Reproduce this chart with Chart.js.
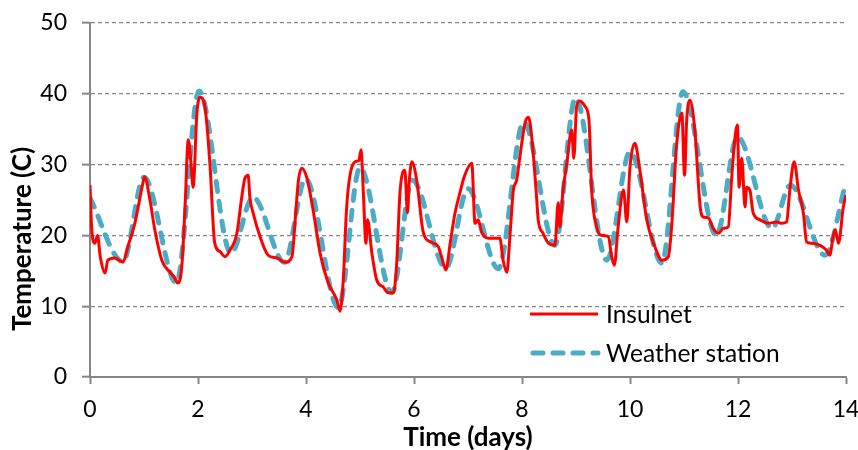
<!DOCTYPE html>
<html>
<head>
<meta charset="utf-8">
<script src="https://cdn.jsdelivr.net/npm/chart.js@4.4.0/dist/chart.umd.min.js"></script>
<style>
  html, body { margin: 0; padding: 0; background: #fff; }
  #wrap { width: 858px; height: 450px; }
</style>
</head>
<body>
<div id="wrap"><canvas id="tempChart" width="858" height="450"></canvas></div>
<script>
// Temperatura: Insulnet vs estação meteorológica, 14 dias

// Insulnet (linha vermelha contínua)
const insulnetDays = [
  0.00, 0.03, 0.09, 0.14, 0.19, 0.28, 0.33, 0.46, 0.61, 0.70, 0.83, 0.98, 1.01, 1.11, 1.20, 1.33,
  1.48, 1.57, 1.62, 1.70, 1.76, 1.82, 1.87, 1.91, 1.98, 2.04, 2.13, 2.22, 2.31, 2.41, 2.50, 2.59,
  2.72, 2.81, 2.87, 2.93, 2.96, 3.02, 3.15, 3.30, 3.46, 3.61, 3.74, 3.80, 3.86, 3.92, 4.01, 4.14,
  4.26, 4.41, 4.57, 4.63, 4.69, 4.75, 4.81, 4.91, 4.98, 5.02, 5.06, 5.11, 5.14, 5.22, 5.31, 5.43,
  5.52, 5.62, 5.68, 5.74, 5.83, 5.88, 5.91, 5.96, 6.05, 6.17, 6.30, 6.45, 6.51, 6.59, 6.67, 6.76,
  6.85, 6.93, 7.07, 7.13, 7.19, 7.25, 7.38, 7.59, 7.65, 7.72, 7.78, 7.84, 7.90, 7.96, 8.06, 8.12,
  8.18, 8.27, 8.30, 8.39, 8.49, 8.61, 8.67, 8.70, 8.76, 8.83, 8.92, 8.96, 9.01, 9.07, 9.17, 9.24,
  9.29, 9.38, 9.48, 9.60, 9.66, 9.71, 9.78, 9.88, 9.94, 10.00, 10.09, 10.19, 10.31, 10.46, 10.59, 10.71,
  10.78, 10.86, 10.96, 11.01, 11.05, 11.11, 11.20, 11.30, 11.36, 11.45, 11.54, 11.64, 11.73, 11.82, 11.88, 11.94,
  11.99, 12.02, 12.07, 12.13, 12.16, 12.22, 12.28, 12.41, 12.56, 12.72, 12.81, 12.90, 12.96, 13.04, 13.12, 13.21,
  13.27, 13.36, 13.52, 13.64, 13.70, 13.76, 13.80, 13.86, 13.95, 14.00
];
const insulnetTemp = [
  27.1, 21.2, 18.9, 20.0, 17.0, 14.7, 16.5, 16.8, 16.2, 18.4, 21.7, 27.4, 28.3, 25.0, 20.8, 16.5,
  14.8, 14.0, 13.3, 15.6, 24.0, 33.5, 30.2, 26.8, 37.3, 39.5, 38.1, 30.2, 18.9, 17.7, 17.0, 17.9,
  20.3, 25.4, 28.1, 28.5, 25.4, 23.2, 19.8, 17.2, 16.8, 16.2, 17.0, 22.2, 27.8, 29.5, 28.3, 23.2,
  17.5, 13.3, 10.9, 9.3, 13.7, 23.6, 28.3, 30.4, 30.6, 32.1, 26.4, 18.9, 22.2, 17.5, 13.7, 12.7,
  11.9, 11.9, 16.1, 26.0, 29.2, 23.2, 27.4, 30.4, 27.8, 20.5, 19.1, 18.4, 17.0, 15.1, 18.9, 23.2,
  26.0, 28.3, 30.2, 21.7, 22.2, 20.5, 19.6, 19.6, 16.5, 14.8, 20.3, 26.4, 27.8, 31.1, 36.0, 36.7,
  33.9, 25.4, 22.2, 20.3, 18.9, 18.6, 24.6, 21.2, 26.4, 30.2, 34.9, 30.9, 38.1, 39.0, 38.2, 36.3,
  26.4, 21.2, 20.0, 19.8, 17.0, 15.8, 21.2, 26.4, 21.9, 29.7, 33.0, 28.8, 22.2, 18.4, 16.5, 17.0,
  22.2, 32.5, 37.3, 28.5, 36.3, 39.1, 34.9, 24.0, 22.6, 22.5, 21.0, 20.3, 21.0, 21.2, 27.8, 33.5,
  35.6, 26.8, 30.9, 24.0, 26.8, 26.4, 23.2, 22.2, 21.7, 21.9, 21.7, 21.9, 26.4, 30.4, 26.4, 23.2,
  19.1, 18.9, 18.6, 17.9, 17.2, 19.8, 20.8, 18.9, 24.0, 25.7
];

// Estação meteorológica (linha azul tracejada)
const weatherDays = [
  0.00, 0.61, 1.00, 1.60, 2.02, 2.61, 3.02, 3.60, 3.99, 4.60, 5.00, 5.59, 5.97, 6.59, 7.00,
  7.56, 8.03, 8.61, 8.99, 9.57, 10.00, 10.59, 10.98, 11.60, 11.99, 12.63, 12.97, 13.61, 14.00
];
const weatherTemp = [
  25.3, 16.3, 28.2, 13.3, 40.4, 17.5, 25.4, 16.2, 28.0, 9.8, 29.6, 11.9, 27.8, 15.4, 26.6,
  15.3, 36.0, 18.6, 39.4, 16.5, 31.8, 16.1, 40.3, 20.0, 33.9, 21.0, 27.1, 17.2, 27.5
];

// Eixos
const xTicks = [0, 2, 4, 6, 8, 10, 12, 14];
const yTicks = [0, 10, 20, 30, 40, 50];
const seriesLabels = ['Insulnet', 'Weather station'];
const yTitle = 'Temperature (C)';

const FONT = 'Lato, "Open Sans", sans-serif';
const GRAY = '#868686';

function toPoints(xs, ys) {
  return xs.map((x, i) => ({ x: x, y: ys[i] }));
}

// Legenda dentro da área do gráfico + título do eixo Y (um pouco abaixo do centro, como no original)
const insideLegend = {
  id: 'insideLegend',
  afterDraw(chart) {
    const ctx = chart.ctx;
    const area = chart.chartArea;
    const x0 = area.left + 440;
    const lineLen = 68;
    const rows = [area.top + 291, area.top + 330];
    ctx.save();
    chart.data.datasets.forEach((ds, i) => {
      const y = rows[i];
      ctx.beginPath();
      ctx.strokeStyle = ds.borderColor;
      ctx.lineWidth = ds.borderWidth;
      ctx.lineCap = ds.borderCapStyle || 'butt';
      ctx.setLineDash(ds.borderDash || []);
      ctx.moveTo(x0 + (ds.borderDash ? 3 : 0), y);
      ctx.lineTo(x0 + lineLen, y);
      ctx.stroke();
      ctx.setLineDash([]);
      ctx.fillStyle = '#000';
      ctx.font = '24.5px ' + FONT;
      ctx.textBaseline = 'middle';
      ctx.textAlign = 'left';
      ctx.fillText(ds.label, x0 + lineLen + 8, y + 1);
    });

    ctx.translate(23, area.top + 216);
    ctx.rotate(-Math.PI / 2);
    ctx.font = 'bold 26px ' + FONT;
    ctx.textAlign = 'center';
    ctx.textBaseline = 'middle';
    ctx.fillStyle = '#000';
    ctx.fillText(yTitle, 0, 0);
    ctx.restore();
  }
};

function createTempChart() {
  const canvas = document.getElementById('tempChart');
  const ctx = canvas.getContext('2d');

  window.tempChart = new Chart(ctx, {
    type: 'line',
    data: {
      datasets: [
        {
          label: seriesLabels[0],
          data: toPoints(insulnetDays, insulnetTemp),
          borderColor: '#FF0000',
          borderWidth: 3,
          pointRadius: 0,
          cubicInterpolationMode: 'monotone',
          fill: false
        },
        {
          label: seriesLabels[1],
          data: toPoints(weatherDays, weatherTemp),
          borderColor: '#4BACC6',
          borderWidth: 5,
          borderDash: [10, 10],
          borderCapStyle: 'round',
          pointRadius: 0,
          cubicInterpolationMode: 'monotone',
          fill: false
        }
      ]
    },
    options: {
      responsive: false,
      animation: false,
      layout: { padding: { top: 23, right: 12, left: 0, bottom: 0 } },
      plugins: {
        legend: { display: false },
        tooltip: { enabled: false }
      },
      scales: {
        x: {
          type: 'linear',
          min: 0,
          max: 14,
          afterBuildTicks: (scale) => { scale.ticks = xTicks.map(v => ({ value: v })); },
          afterFit: (scale) => { scale.height = 73; scale.paddingLeft = 0; scale.paddingRight = 0; },
          ticks: { color: '#000', font: { family: FONT, size: 23 }, padding: 12, maxRotation: 0 },
          grid: { display: true, drawOnChartArea: false, drawTicks: true, tickLength: 7, tickColor: GRAY, tickWidth: 2 },
          border: { display: true, color: GRAY, width: 2 },
          title: {
            display: true,
            text: 'Time (days)',
            color: '#000',
            font: { family: FONT, size: 26, weight: 'bold' },
            padding: { top: 0, bottom: -3 }
          }
        },
        y: {
          min: 0,
          max: 50,
          afterBuildTicks: (scale) => { scale.ticks = yTicks.map(v => ({ value: v })); },
          afterFit: (scale) => { scale.width = 90; scale.paddingTop = 0; scale.paddingBottom = 0; },
          ticks: { color: '#000', font: { family: FONT, size: 23 }, padding: 15 },
          grid: { color: GRAY, lineWidth: 1.3, drawTicks: true, tickLength: 8, tickColor: GRAY, tickWidth: 2, tickBorderDash: [] },
          border: { display: true, color: GRAY, width: 2, dash: [4, 3] },
          title: { display: false }
        }
      }
    },
    plugins: [insideLegend]
  });
}

document.addEventListener('DOMContentLoaded', function() {
  createTempChart();
});
</script>
</body>
</html>
